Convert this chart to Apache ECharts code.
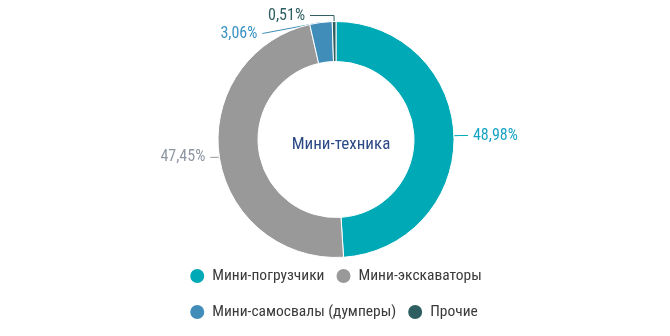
<!DOCTYPE html>
<html>
<head>
<meta charset="utf-8">
<script src="https://cdn.jsdelivr.net/npm/echarts@6/dist/echarts.min.js"></script>
<style>
  html, body { margin: 0; padding: 0; background: #fff; }
  #chart { width: 670px; height: 336px; }
</style>
</head>
<body>
<div id="chart"></div>
<script>
// Доли сегментов рынка мини-техники, %
const categories = ['Мини-погрузчики', 'Мини-экскаваторы', 'Мини-самосвалы (думперы)', 'Прочие'];
const shares = [48.98, 47.45, 3.06, 0.51];
const colors = ['#00A9B6', '#999999', '#3F8DB8', '#2E5E60'];
const labelColors = ['#17A4C4', '#8E97A3', '#3A93C4', '#2E5E60'];
const centerTitle = 'Мини-техника';

const FONT = "'Roboto Condensed', 'Liberation Sans Narrow', sans-serif";

const chart = echarts.init(document.getElementById('chart'));

const fmt = v => v.toFixed(2).replace('.', ',') + '%';

chart.setOption({
  animation: false,
  color: colors,
  title: {
    text: centerTitle,
    left: 336,
    top: 131,
    textAlign: 'center',
    textStyle: { fontFamily: FONT, fontSize: 17, fontWeight: 'normal', color: '#2C4A86' }
  },
  legend: {
    left: 'center',
    top: 258,
    width: 300,
    icon: 'circle',
    itemWidth: 16,
    itemHeight: 16,
    itemGap: 10,
    textStyle: { fontFamily: FONT, fontSize: 15.5, color: '#3A3A3A', lineHeight: 26, padding: [0, 0, 0, 2] },
    data: categories
  },
  series: [{
    type: 'pie',
    center: [336, 139.5],
    radius: [78, 118],
    startAngle: 90,
    clockwise: true,
    avoidLabelOverlap: true,
    itemStyle: { borderColor: '#fff', borderWidth: 1 },
    label: {
      show: true,
      position: 'outside',
      fontFamily: FONT,
      fontSize: 16,
      padding: [0, 0, 9, 0],
      formatter: p => fmt(p.value)
    },
    labelLine: { show: true, length: 6, length2: 8, lineStyle: { width: 1 } },
    data: categories.map((name, i) => ({
      name,
      value: shares[i],
      label: { color: labelColors[i] },
      labelLine: {
        length2: i === 3 ? 24 : (i === 2 ? 14 : 8),
        lineStyle: { color: colors[i] }
      }
    }))
  }]
});
</script>
</body>
</html>
